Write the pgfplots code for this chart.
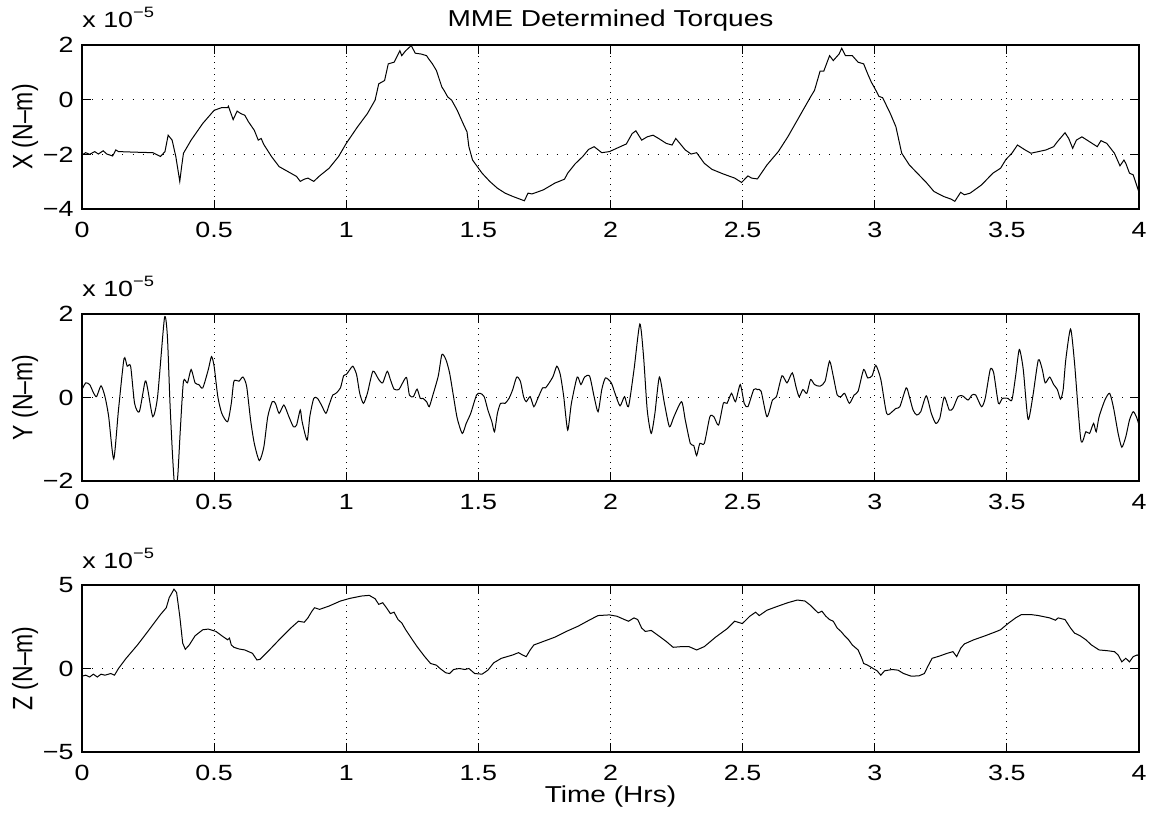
\documentclass[border=0pt]{standalone}
\usepackage{fontspec}
\setmainfont{Liberation Sans}[FakeStretch=1.22]
\newfontfamily\plainfont{Liberation Sans}
\usepackage{graphicx}
\usepackage{pgfplots}
\pgfplotsset{compat=1.18}
\pgfplotsset{panel/.style={
  anchor=north west, scale only axis, width=528.5pt,
  xmin=0, xmax=4,
  xtick={0,0.5,1,1.5,2,2.5,3,3.5,4},
  xticklabels={0,0.5,1,1.5,2,2.5,3,3.5,4},
  tick align=inside, major tick length=4.5pt,
  xmajorgrids, ymajorgrids,
  x grid style={black, line width=0.45pt, dash pattern=on 0.45pt off 2.6pt},
  y grid style={black, line width=0.45pt, dash pattern=on 0.45pt off 4.6pt},
  axis line style={line width=0.6pt},
  every tick/.style={black, line width=0.6pt},
  tick label style={font=\fontsize{11}{12}\selectfont, inner sep=0pt},
  xticklabel style={anchor=north, yshift=-6.5pt},
  yticklabel style={anchor=east, xshift=-4pt},
  clip=true,
}}
\begin{document}
\begin{tikzpicture}
\useasboundingbox (0,0) rectangle (578pt,-408.5pt);
% ---------------- X ----------------
\begin{axis}[panel, name=top, at={(41pt,-22.5pt)}, height=82pt,
  ymin=-4, ymax=2, ytick={-4,-2,0,2}, yticklabels={−4,−2,0,2}]
\addplot[black, line width=0.5pt] table {
x y
0 -2.02
0.014 -1.94
0.029 -2.00
0.048 -1.90
0.062 -1.99
0.080 -1.87
0.094 -1.99
0.116 -2.06
0.128 -1.84
0.138 -1.90
0.196 -1.92
0.268 -1.94
0.297 -2.08
0.314 -1.90
0.326 -1.30
0.341 -1.48
0.355 -2.08
0.370 -2.99
0.377 -2.45
0.384 -1.96
0.413 -1.48
0.457 -0.87
0.500 -0.39
0.529 -0.29
0.551 -0.29
0.554 -0.24
0.572 -0.73
0.587 -0.42
0.601 -0.51
0.616 -0.57
0.630 -0.81
0.652 -1.12
0.667 -1.48
0.678 -1.42
0.688 -1.64
0.717 -2.08
0.746 -2.45
0.790 -2.69
0.812 -2.81
0.826 -2.99
0.841 -2.91
0.855 -2.87
0.877 -2.99
0.899 -2.79
0.935 -2.51
0.971 -2.08
1.000 -1.60
1.043 -0.99
1.080 -0.51
1.109 -0.02
1.123 0.58
1.145 0.70
1.159 1.31
1.181 1.37
1.203 1.79
1.210 1.61
1.225 1.79
1.246 1.98
1.261 1.70
1.283 1.67
1.304 1.61
1.312 1.49
1.326 1.31
1.341 1.07
1.362 0.46
1.370 0.34
1.384 0.10
1.399 -0.02
1.420 -0.39
1.442 -0.87
1.457 -1.18
1.464 -1.72
1.478 -2.21
1.514 -2.69
1.543 -2.99
1.572 -3.24
1.601 -3.42
1.630 -3.54
1.674 -3.70
1.688 -3.42
1.703 -3.45
1.746 -3.30
1.790 -3.05
1.826 -2.91
1.838 -2.69
1.866 -2.35
1.895 -2.08
1.917 -1.82
1.938 -1.72
1.967 -1.94
1.996 -1.90
2.060 -1.62
2.082 -1.24
2.096 -1.14
2.118 -1.48
2.139 -1.36
2.161 -1.30
2.182 -1.42
2.211 -1.60
2.233 -1.66
2.247 -1.42
2.283 -1.84
2.305 -1.99
2.326 -1.94
2.355 -2.33
2.384 -2.55
2.427 -2.72
2.470 -2.87
2.496 -3.03
2.520 -2.79
2.534 -2.87
2.556 -2.90
2.592 -2.39
2.635 -1.90
2.671 -1.36
2.714 -0.63
2.757 0.10
2.772 0.34
2.793 1.04
2.807 1.04
2.829 1.61
2.843 1.43
2.865 1.67
2.875 1.88
2.889 1.61
2.915 1.61
2.937 1.37
2.958 1.31
2.973 0.95
2.987 0.64
3.001 0.40
3.016 0.12
3.030 0.07
3.059 -0.51
3.080 -0.99
3.102 -1.96
3.131 -2.39
3.167 -2.75
3.195 -3.03
3.224 -3.36
3.260 -3.54
3.289 -3.64
3.303 -3.72
3.325 -3.39
3.339 -3.48
3.361 -3.42
3.404 -3.12
3.447 -2.69
3.476 -2.51
3.497 -2.18
3.519 -1.96
3.540 -1.66
3.569 -1.84
3.591 -1.96
3.648 -1.84
3.677 -1.72
3.691 -1.54
3.720 -1.21
3.734 -1.42
3.749 -1.78
3.763 -1.48
3.784 -1.36
3.813 -1.54
3.842 -1.72
3.856 -1.50
3.878 -1.60
3.907 -1.96
3.928 -2.42
3.943 -2.21
3.950 -2.33
3.964 -2.69
3.978 -2.75
4.000 -3.39
};
\end{axis}
% ---------------- Y ----------------
\begin{axis}[panel, name=mid, at={(41pt,-157pt)}, height=83.5pt,
  ymin=-2, ymax=2, ytick={-2,0,2}, yticklabels={−2,0,2}]
\addplot[black, line width=0.5pt, smooth, tension=0.4] table {
x y
0 0.19
0.014 0.35
0.029 0.31
0.043 0.12
0.055 0.02
0.072 0.28
0.087 0.02
0.101 -0.46
0.120 -1.47
0.138 -0.30
0.159 0.93
0.171 0.75
0.184 0.75
0.199 -0.14
0.217 -0.34
0.239 0.39
0.249 0.19
0.268 -0.46
0.286 0.02
0.312 1.90
0.323 1.48
0.333 -0.14
0.343 -1.43
0.352 -2.23
0.362 -1.91
0.372 -0.78
0.384 0.39
0.399 0.35
0.413 0.67
0.428 0.35
0.442 0.31
0.457 0.23
0.478 0.67
0.490 0.98
0.500 0.75
0.514 0.02
0.529 -0.38
0.551 -0.58
0.565 -0.14
0.575 0.39
0.594 0.39
0.609 0.49
0.623 0.27
0.638 -0.54
0.652 -1.10
0.671 -1.51
0.688 -1.19
0.703 -0.46
0.720 -0.10
0.732 -0.14
0.746 -0.38
0.764 -0.18
0.783 -0.46
0.800 -0.70
0.812 -0.66
0.826 -0.30
0.833 -0.58
0.852 -1.02
0.862 -0.46
0.877 -0.02
0.891 -0.02
0.906 -0.18
0.923 -0.38
0.935 -0.18
0.949 0.06
0.961 0.10
0.978 0.23
0.990 0.52
1.000 0.55
1.014 0.67
1.025 0.75
1.039 0.55
1.051 0.10
1.065 -0.14
1.080 0.10
1.101 0.63
1.123 0.43
1.138 0.35
1.155 0.63
1.167 0.43
1.181 0.20
1.199 0.19
1.210 0.31
1.228 0.48
1.239 0.06
1.254 0.02
1.268 0.20
1.280 -0.02
1.290 -0.02
1.304 -0.10
1.314 -0.22
1.326 0.02
1.348 0.51
1.362 1.03
1.377 0.91
1.391 0.59
1.406 0.02
1.420 -0.50
1.439 -0.86
1.454 -0.62
1.471 -0.38
1.493 0.06
1.507 0.10
1.522 0.02
1.536 -0.30
1.551 -0.58
1.561 -0.82
1.572 -0.38
1.584 -0.14
1.601 -0.14
1.616 -0.02
1.630 0.19
1.645 0.49
1.659 0.39
1.671 0.02
1.681 -0.10
1.696 0.02
1.710 -0.22
1.725 -0.02
1.743 0.23
1.754 0.23
1.768 0.35
1.783 0.51
1.797 0.75
1.810 0.55
1.823 0.02
1.838 -0.78
1.852 -0.14
1.874 0.49
1.888 0.31
1.902 0.49
1.921 0.51
1.938 0.02
1.953 -0.34
1.967 0.19
1.981 0.47
2.003 0.35
2.017 0.10
2.036 -0.20
2.053 0.02
2.068 -0.22
2.089 0.67
2.111 1.76
2.125 0.99
2.139 -0.30
2.154 -0.86
2.168 -0.38
2.185 0.49
2.204 -0.14
2.223 -0.70
2.240 -0.46
2.269 -0.10
2.283 -0.54
2.302 -1.10
2.315 -1.15
2.326 -1.39
2.338 -1.10
2.355 -1.10
2.376 -0.46
2.391 -0.46
2.409 -0.66
2.427 -0.14
2.441 -0.14
2.458 0.10
2.473 -0.10
2.491 0.31
2.506 -0.14
2.520 -0.22
2.542 0.19
2.556 0.19
2.570 0.15
2.592 -0.46
2.613 -0.06
2.628 0.02
2.649 0.52
2.668 0.35
2.688 0.59
2.703 0.23
2.714 0.02
2.728 0.19
2.743 0.10
2.757 0.43
2.772 0.31
2.793 0.27
2.812 0.39
2.829 0.87
2.843 0.51
2.858 0.06
2.872 0.02
2.886 0.10
2.904 -0.14
2.922 0.06
2.937 0.15
2.958 0.67
2.973 0.47
2.990 0.52
3.004 0.77
3.023 0.43
3.045 -0.38
3.066 -0.34
3.080 -0.26
3.095 -0.22
3.119 0.23
3.131 0.02
3.145 -0.30
3.159 -0.42
3.174 -0.34
3.195 0.04
3.214 -0.38
3.231 -0.62
3.246 -0.50
3.263 0.01
3.282 -0.30
3.296 -0.26
3.315 0.02
3.332 0.04
3.353 -0.06
3.368 0.06
3.382 0.06
3.404 -0.22
3.418 -0.02
3.437 0.67
3.450 0.59
3.468 -0.14
3.483 -0.02
3.504 -0.02
3.519 -0.06
3.533 0.51
3.547 1.15
3.562 0.67
3.580 -0.52
3.598 0.02
3.619 0.90
3.634 0.67
3.645 0.35
3.662 0.49
3.677 0.31
3.691 0.19
3.703 -0.04
3.713 0.19
3.723 0.91
3.741 1.64
3.756 0.83
3.780 -1.02
3.799 -0.82
3.813 -0.86
3.828 -0.62
3.838 -0.82
3.849 -0.46
3.871 -0.06
3.889 0.10
3.904 -0.26
3.921 -0.86
3.935 -1.19
3.950 -0.94
3.964 -0.54
3.978 -0.34
3.990 -0.46
4.000 -0.66
};
\end{axis}
% ---------------- Z ----------------
\begin{axis}[panel, name=bot, at={(41pt,-292.5pt)}, height=83.5pt,
  ymin=-5, ymax=5, ytick={-5,0,5}, yticklabels={−5,0,5}]
\addplot[black, line width=0.5pt] table {
x y
0 -0.46
0.014 -0.40
0.029 -0.51
0.043 -0.34
0.058 -0.51
0.072 -0.34
0.087 -0.40
0.109 -0.30
0.123 -0.40
0.138 0.00
0.167 0.61
0.210 1.41
0.254 2.32
0.297 3.23
0.319 3.64
0.330 4.24
0.348 4.75
0.358 4.55
0.370 3.13
0.381 1.52
0.391 1.15
0.406 1.41
0.428 1.96
0.457 2.32
0.478 2.36
0.507 2.22
0.529 1.96
0.551 1.72
0.558 1.82
0.565 1.41
0.575 1.27
0.594 1.17
0.616 1.11
0.645 0.91
0.662 0.51
0.674 0.55
0.703 1.01
0.746 1.72
0.790 2.42
0.819 2.83
0.841 2.77
0.855 3.03
0.870 3.43
0.880 3.64
0.899 3.54
0.935 3.74
0.978 4.04
1.014 4.20
1.058 4.34
1.087 4.38
1.109 4.18
1.123 3.84
1.138 3.94
1.152 3.64
1.167 3.29
1.181 3.37
1.196 2.93
1.210 2.73
1.225 2.32
1.246 1.82
1.268 1.31
1.297 0.71
1.319 0.30
1.341 0.20
1.355 0.00
1.377 -0.26
1.391 -0.30
1.406 -0.06
1.428 0.00
1.449 -0.06
1.464 0.00
1.486 -0.30
1.514 -0.34
1.536 -0.10
1.558 0.34
1.587 0.61
1.630 0.81
1.652 0.95
1.667 0.81
1.681 0.71
1.696 1.11
1.710 1.41
1.746 1.62
1.790 1.88
1.833 2.22
1.877 2.53
1.920 2.90
1.953 3.17
1.996 3.21
2.024 3.13
2.053 2.93
2.068 2.83
2.089 3.03
2.103 2.93
2.118 2.42
2.132 2.22
2.154 2.28
2.182 1.96
2.211 1.62
2.237 1.27
2.269 1.31
2.297 1.31
2.326 1.11
2.355 1.31
2.398 1.88
2.441 2.38
2.470 2.83
2.499 2.69
2.527 3.13
2.549 3.37
2.563 3.17
2.592 3.49
2.635 3.74
2.671 3.94
2.707 4.10
2.736 4.04
2.757 3.78
2.772 3.54
2.786 3.33
2.800 3.43
2.815 3.13
2.829 2.93
2.843 2.83
2.858 2.42
2.872 2.22
2.886 1.96
2.901 1.72
2.915 1.41
2.937 1.11
2.951 0.61
2.958 0.30
2.973 0.20
2.994 0.00
3.009 -0.14
3.023 -0.40
3.037 -0.14
3.066 -0.06
3.088 -0.10
3.109 -0.30
3.138 -0.46
3.167 -0.44
3.188 -0.30
3.200 0.10
3.217 0.61
3.246 0.75
3.274 0.91
3.296 1.01
3.310 0.71
3.325 1.21
3.339 1.47
3.375 1.72
3.418 1.96
3.461 2.22
3.476 2.32
3.504 2.69
3.533 3.03
3.555 3.23
3.591 3.23
3.619 3.17
3.662 3.03
3.684 2.89
3.694 3.03
3.720 2.93
3.741 2.42
3.756 2.12
3.777 1.96
3.799 1.72
3.820 1.41
3.849 1.11
3.878 1.07
3.907 1.01
3.921 0.81
3.935 0.40
3.950 0.61
3.964 0.40
3.978 0.71
3.993 0.81
4.000 0.75
};
\end{axis}
% ---------------- texts ----------------
\node[anchor=base, inner sep=0pt, font=\fontsize{11.5}{13}\selectfont] at ([yshift=9.15pt]top.north) {MME Determined Torques};
\node[anchor=base, inner sep=0pt, font=\fontsize{11.5}{13}\selectfont] at ([yshift=-25pt]bot.south) {Time (Hrs)};
\foreach \ax/\lab in {top/X, mid/Y, bot/Z}{
  \node[rotate=90, anchor=base, inner sep=0pt, font=\fontsize{11.5}{13}\selectfont] at ([xshift=-24.75pt]\ax.west) {\scalebox{1}[1.22]{\plainfont \lab\ (N–m)}};
  \node[anchor=base west, inner sep=0pt, font=\fontsize{11}{12}\selectfont] at ([yshift=8.5pt]\ax.north west) {x 10\raisebox{5pt}{\fontsize{7.5}{8}\selectfont −5}};
}
\end{tikzpicture}
\end{document}
